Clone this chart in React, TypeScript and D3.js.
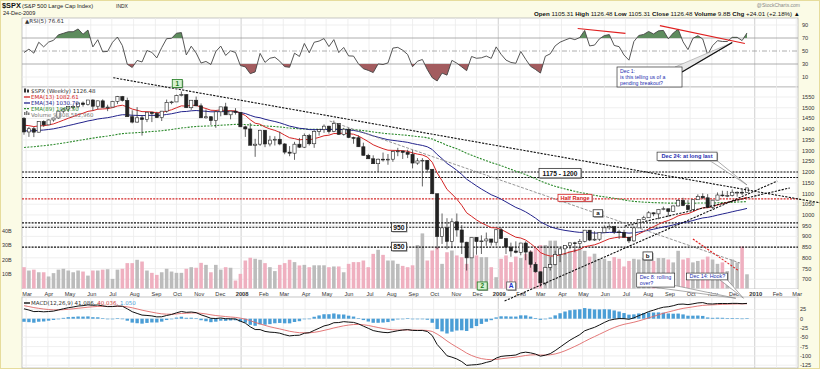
import React from 'react';
import * as d3 from 'd3';

// first weekly bar
const firstWeek = '2007-02-26';

// weekly [open, high, low, close]
const bars2007: number[][] = [
  [1451, 1456, 1374, 1387], [1387, 1410, 1364, 1402], [1402, 1410, 1363, 1386], [1386, 1438, 1385, 1436],
  [1436, 1441, 1411, 1420], [1420, 1445, 1419, 1443], [1443, 1453, 1435, 1452], [1452, 1484, 1449, 1484],
  [1484, 1498, 1475, 1494], [1494, 1505, 1480, 1505], [1505, 1513, 1490, 1505], [1505, 1522, 1498, 1522],
  [1522, 1529, 1505, 1515], [1515, 1536, 1510, 1536], [1536, 1540, 1487, 1507], [1507, 1533, 1492, 1532],
  [1532, 1539, 1500, 1502], [1502, 1514, 1484, 1503], [1503, 1532, 1503, 1530], [1530, 1555, 1517, 1552],
  [1552, 1555, 1529, 1534], [1534, 1547, 1458, 1458], [1458, 1488, 1427, 1433], [1433, 1503, 1430, 1453],
  [1453, 1466, 1370, 1445], [1445, 1479, 1433, 1479], [1479, 1481, 1433, 1473], [1473, 1481, 1453, 1454],
  [1454, 1485, 1438, 1484], [1484, 1538, 1477, 1525], [1525, 1532, 1516, 1527], [1527, 1561, 1527, 1557],
  [1557, 1576, 1553, 1561], [1561, 1564, 1500, 1500], [1500, 1536, 1490, 1535], [1535, 1552, 1506, 1509],
  [1509, 1520, 1453, 1453], [1453, 1492, 1449, 1458], [1458, 1461, 1419, 1440], [1440, 1488, 1406, 1481],
  [1481, 1504, 1460, 1504], [1504, 1523, 1467, 1467], [1467, 1486, 1446, 1484], [1484, 1498, 1468, 1478],
  [1478, 1479, 1411, 1411],
];
const bars2008: number[][] = [
  [1411, 1417, 1364, 1401], [1401, 1429, 1325, 1325], [1325, 1355, 1271, 1330], [1330, 1397, 1322, 1395],
  [1395, 1396, 1316, 1331], [1331, 1369, 1320, 1349], [1349, 1367, 1324, 1353], [1353, 1388, 1325, 1331],
  [1331, 1335, 1283, 1293], [1293, 1321, 1274, 1288], [1288, 1341, 1257, 1330], [1330, 1359, 1312, 1316],
  [1316, 1380, 1312, 1370], [1370, 1378, 1324, 1332], [1332, 1395, 1313, 1390], [1390, 1399, 1370, 1398],
  [1398, 1422, 1383, 1414], [1414, 1416, 1379, 1389], [1389, 1440, 1386, 1426], [1426, 1427, 1373, 1376],
  [1376, 1406, 1370, 1400], [1400, 1405, 1358, 1361], [1361, 1365, 1332, 1360], [1360, 1371, 1317, 1318],
  [1318, 1337, 1277, 1278], [1278, 1285, 1262, 1262], [1262, 1278, 1238, 1239], [1239, 1263, 1200, 1260],
  [1260, 1291, 1249, 1257], [1257, 1284, 1234, 1260], [1260, 1300, 1248, 1296], [1296, 1313, 1274, 1298],
  [1298, 1300, 1261, 1292], [1292, 1304, 1265, 1283], [1283, 1304, 1217, 1242], [1242, 1265, 1234, 1252],
  [1252, 1265, 1133, 1255], [1255, 1255, 1197, 1213], [1213, 1214, 1097, 1099], [1099, 1099, 840, 899],
  [899, 1007, 865, 940], [940, 985, 840, 877], [877, 984, 845, 968], [968, 1007, 899, 930],
  [930, 953, 818, 873], [873, 875, 741, 800], [800, 897, 800, 896], [896, 897, 815, 876],
  [876, 905, 818, 879], [879, 918, 856, 888], [888, 888, 857, 873], [873, 934, 857, 931],
];
const bars2009: number[][] = [
  [931, 943, 889, 890], [890, 893, 818, 850], [850, 871, 805, 832], [832, 877, 821, 826],
  [826, 870, 812, 869], [869, 877, 789, 827], [827, 835, 754, 770], [770, 780, 731, 735],
  [735, 736, 666, 683], [683, 758, 672, 756], [756, 804, 741, 769], [769, 833, 765, 816],
  [816, 845, 780, 842], [842, 858, 814, 857], [857, 870, 840, 870], [870, 875, 826, 866],
  [866, 888, 846, 877], [877, 930, 872, 929], [929, 930, 878, 883], [883, 924, 879, 887],
  [887, 920, 879, 919], [919, 951, 919, 940], [940, 956, 931, 946], [946, 947, 911, 921],
  [921, 931, 888, 918], [918, 931, 896, 896], [896, 898, 869, 879], [879, 943, 875, 940],
  [940, 979, 940, 979], [979, 996, 978, 987], [987, 1018, 987, 1010], [1010, 1012, 994, 1005],
  [1005, 1028, 980, 1026], [1026, 1039, 1022, 1029], [1029, 1029, 992, 1016], [1016, 1044, 1016, 1042],
  [1042, 1074, 1040, 1068], [1068, 1080, 1041, 1044], [1044, 1069, 1020, 1025], [1025, 1071, 1025, 1071],
  [1071, 1096, 1070, 1087], [1087, 1101, 1074, 1080], [1080, 1097, 1033, 1036], [1036, 1071, 1029, 1069],
  [1069, 1105, 1069, 1093], [1093, 1113, 1085, 1091], [1091, 1112, 1083, 1091], [1091, 1119, 1086, 1106],
  [1106, 1110, 1085, 1106], [1106, 1118, 1093, 1102], [1105, 1126, 1105, 1126],
];

// weekly volume, billions of shares
const volume2007 = [
  14.7, 12.4, 13, 11.2, 11.2, 8.3, 10.6, 13, 13.6, 12.4, 11.2, 12.4, 11.7, 8.9, 12.4, 12.4, 13, 13.3, 6.6, 13,
  13.6, 17.5, 17.5, 19.8, 18.6, 12.4, 10.8, 9.4, 11.2, 13.6, 11.7, 10.8, 10.8, 13.6, 14.7, 14.3, 17.7, 16.3, 11.2,
  16.3, 13, 14.7, 14.3, 5.5, 10.1,
];
const volume2008 = [
  19.3, 21.2, 20.5, 19.8, 17.5, 14.7, 12, 16.3, 17.5, 19.8, 18.2, 15.9, 16.3, 14.7, 16, 16, 16, 14.7, 15.2, 15.2,
  11.2, 17, 18.2, 18.2, 19.3, 14.7, 23.9, 26.7, 23.2, 19.3, 19.3, 17, 15.6, 14.7, 16, 30, 38, 19.3, 26.2, 28.5,
  17, 25, 26.2, 22.8, 21.6, 17, 25, 22.8, 21.6, 21.6, 14.7, 7.8,
];
const volume2009 = [
  20.5, 22.8, 18.2, 22, 21, 24, 26, 28, 30, 30, 33, 33, 27, 24, 26, 27, 28.5, 26, 22, 24,
  20.5, 20.5, 19, 21.6, 20.5, 15.2, 19, 20.5, 20, 21, 21, 19, 21, 21, 20, 18, 26, 20, 21, 18,
  19, 20, 22, 20, 17, 18, 12, 20, 18, 29, 9.8,
];

// indicator values in force the week before the first bar
const emaStart = { e13: 1424, e34: 1392, e89: 1313 };
const macdStart = { fast: 1425, slow: 1393, signal: 37 };
const rsiStart = { prevClose: 1451, gain: 20, loss: 6 };

// axis ticks
const priceTicks = [700, 750, 800, 850, 900, 950, 1000, 1050, 1100, 1150, 1200, 1250, 1300, 1350, 1400, 1450, 1500, 1550];
const rsiTicks = [90, 70, 50, 30, 10];
const macdTicks = [25, 0, -25, -50, -75, -100, -125];
const volumeTicks = [10, 20, 30, 40];

// analyst's levels and trend lines
const blackLevels = [1200, 1175, 963, 943, 850];
const halfRange = 1075;
const trendLines: [string, number, string, number][] = [
  ['2007-07-03', 1640, '2010-04-05', 1056],
  ['2009-01-10', 599, '2010-02-02', 1158],
  ['2009-06-30', 948, '2010-02-20', 1126],
];
const grayLine: [string, number, string, number] = ['2008-05-06', 1438, '2009-12-11', 776];
const redLine: [string, number, string, number] = ['2009-10-05', 888, '2009-12-08', 743];
const rsiRedLines: [string, number, string, number][] = [
  ['2009-04-24', 84.6, '2009-07-01', 77],
  ['2009-08-19', 89, '2009-12-18', 61.5],
];

function emaSeries(values: number[], n: number, seed: number) {
  const k = 2 / (n + 1);
  let prev = seed;
  return values.map((v) => (prev = prev + k * (v - prev)));
}

function rsiSeries(values: number[], n: number) {
  let p = rsiStart.prevClose, ag = rsiStart.gain, al = rsiStart.loss;
  return values.map((v) => {
    const ch = v - p;
    p = v;
    ag = (ag * (n - 1) + Math.max(ch, 0)) / n;
    al = (al * (n - 1) + Math.max(-ch, 0)) / n;
    return 100 - 100 / (1 + ag / al);
  });
}

const FONT = 'Liberation Sans, Arial, sans-serif';
const MONO = 'DejaVu Sans, sans-serif';

export default function App() {
  const W = 820, H = 369;
  const L = 22, R = 798;
  const rsiTop = 18, rsiBot = 87, priceTop = 87, priceBot = 289, macdTop = 297, macdBot = 368;

  const parse = d3.timeParse('%Y-%m-%d');
  const start = parse(firstWeek) as Date;
  const bars = [...bars2007, ...bars2008, ...bars2009];
  const volume = [...volume2007, ...volume2008, ...volume2009];
  const dates = bars.map((_, i) => d3.timeDay.offset(start, 7 * i));
  const closes = bars.map((b) => b[3]);

  const x = d3.scaleTime().domain([start, dates[dates.length - 1]]).range([24, 747]);
  const y = d3.scaleLinear().domain([700, 1550]).range([279.3, 97]);
  const yVol = d3.scaleLinear().domain([0, 40]).range([288.5, 230.5]);
  const yRsi = d3.scaleLinear().domain([10, 90]).range([77, 25]);
  const yMacd = d3.scaleLinear().domain([0, -125]).range([318.7, 365.2]);
  const px = (s: string) => x(parse(s) as Date);

  const e13 = emaSeries(closes, 13, emaStart.e13);
  const e34 = emaSeries(closes, 34, emaStart.e34);
  const e89 = emaSeries(closes, 89, emaStart.e89);
  const fast = emaSeries(closes, 12, macdStart.fast);
  const slow = emaSeries(closes, 26, macdStart.slow);
  const macd = fast.map((f, i) => f - slow[i]);
  const signal = emaSeries(macd, 9, macdStart.signal);
  const hist = macd.map((m, i) => m - signal[i]);
  const rsi = rsiSeries(closes, 5);

  const line = (vals: number[], sy: (v: number) => number) =>
    d3.line<number>().x((_, i) => x(dates[i])).y((v) => sy(v))(vals) || '';

  const rsiArea = (base: number) =>
    d3.area<number>().x((_, i) => x(dates[i])).y0(yRsi(base)).y1((v) => yRsi(v))(rsi) || '';

  const months = d3.timeMonth.range(new Date(2007, 2, 1), new Date(2010, 2, 2));

  const seg = (t: [string, number, string, number], sy: (v: number) => number) => ({
    x1: px(t[0]), y1: sy(t[1]), x2: px(t[2]), y2: sy(t[3]),
  });

  const boxLabel = (key: string, bx: number, cy: number, w: number, h: number, text: string,
    color: string, fill: string, stroke: string, size: number) => (
    <g key={key}>
      <rect x={bx + 1} y={cy - h / 2 + 1} width={w} height={h} fill="#999" />
      <rect x={bx} y={cy - h / 2} width={w} height={h} fill={fill} stroke={stroke} strokeWidth={0.8} />
      <text x={bx + w / 2} y={cy + size * 0.36} textAnchor="middle" fontSize={size} fontWeight="bold"
        fill={color} fontFamily={FONT}>{text}</text>
    </g>
  );

  return (
    <svg width={W} height={H} style={{ position: 'absolute', left: 0, top: 0, display: 'block' }} fontFamily={FONT}>
      <defs>
        <clipPath id="rsiTopClip"><rect x={L} y={rsiTop} width={R - L} height={yRsi(70) - rsiTop} /></clipPath>
        <clipPath id="rsiBotClip"><rect x={L} y={yRsi(30)} width={R - L} height={rsiBot - yRsi(30)} /></clipPath>
      </defs>
      <rect width={W} height={H} fill="#fbfbe6" />
      <rect x={0.5} y={0.5} width={W - 1} height={H - 1} fill="none" stroke="#e6dc9c" />

      {/* header */}
      <text x={2} y={8} fontSize={7.4} fontWeight="bold" fill="#111">$SPX</text>
      <text x={22} y={8} fontSize={5.8} fill="#222">(S&amp;P 500 Large Cap Index)</text>
      <text x={116} y={8} fontSize={5} fill="#222">INDX</text>
      <text x={3} y={15} fontSize={5.6} fill="#222">24-Dec-2009</text>
      <text x={800} y={6.5} fontSize={5} fill="#888" textAnchor="end">@StockCharts.com</text>
      <text x={800} y={16} fontSize={6.2} fill="#111" textAnchor="end">
        <tspan fontWeight="bold">Open</tspan><tspan> 1105.31 </tspan>
        <tspan fontWeight="bold">High</tspan><tspan> 1126.48 </tspan>
        <tspan fontWeight="bold">Low</tspan><tspan> 1105.31 </tspan>
        <tspan fontWeight="bold">Close</tspan><tspan> 1126.48 </tspan>
        <tspan fontWeight="bold">Volume</tspan><tspan> 9.8B </tspan>
        <tspan fontWeight="bold">Chg</tspan><tspan> +24.01 (+2.18%) ▲</tspan>
      </text>

      {/* panels */}
      <rect x={L} y={rsiTop} width={R - L} height={rsiBot - rsiTop} fill="#fff" stroke="#b8b8b8" strokeWidth={0.8} />
      <rect x={L} y={priceTop} width={R - L} height={priceBot - priceTop} fill="#fff" stroke="#b8b8b8" strokeWidth={0.8} />
      <rect x={L} y={priceBot} width={R - L} height={macdTop - priceBot} fill="#fff" />
      <rect x={L} y={macdTop} width={R - L} height={macdBot - macdTop} fill="#fff" stroke="#b8b8b8" strokeWidth={0.8} />

      {/* vertical grid */}
      {months.map((m) => {
        const mx = x(m);
        const yr = m.getMonth() === 0;
        const c = yr ? '#c4c4c4' : '#ebebeb';
        return (
          <g key={'g' + m.getTime()}>
            <line x1={mx} x2={mx} y1={rsiTop} y2={rsiBot} stroke={c} strokeWidth={0.8} />
            <line x1={mx} x2={mx} y1={priceTop} y2={priceBot} stroke={c} strokeWidth={0.8} />
            <line x1={mx} x2={mx} y1={macdTop} y2={macdBot} stroke={c} strokeWidth={0.8} />
            <text x={mx + 1} y={296} textAnchor="middle" fontSize={yr ? 5.8 : 5.6}
              fontWeight={yr ? 'bold' : 'normal'} fill="#333">
              {yr ? d3.timeFormat('%Y')(m) : d3.timeFormat('%b')(m)}
            </text>
          </g>
        );
      })}

      {/* RSI panel */}
      {rsiTicks.map((t) => (
        <g key={'r' + t}>
          <line x1={L} x2={R} y1={yRsi(t)} y2={yRsi(t)}
            stroke={t === 70 || t === 30 || t === 50 ? '#999' : '#ebebeb'}
            strokeDasharray={t === 50 ? '5 2 1 2' : undefined} strokeWidth={0.8} />
          <text x={802} y={yRsi(t) + 2} fontSize={5.6} fill="#333">{t}</text>
        </g>
      ))}
      <path d={rsiArea(70)} clipPath="url(#rsiTopClip)" fill="#5e8c5e" />
      <path d={rsiArea(30)} clipPath="url(#rsiBotClip)" fill="#a35c5f" />
      <path d={line(rsi, yRsi)} fill="none" stroke="#444" strokeWidth={0.9} />
      <text x={25} y={23} fontSize={5.6} fill="#333" fontFamily={MONO}>▲RSI(5) 76.61</text>
      {rsiRedLines.map((t, i) => {
        const s = seg(t, yRsi);
        return <line key={'rl' + i} {...s} stroke="#e02020" strokeWidth={1.2} />;
      })}

      {/* price panel grid and labels */}
      {priceTicks.map((t) => (
        <g key={'p' + t}>
          <line x1={L} x2={R} y1={y(t)} y2={y(t)} stroke="#ebebeb" strokeWidth={0.8} />
          <text x={802} y={y(t) + 2} fontSize={5.6} fill="#333">{t}</text>
        </g>
      ))}
      {volumeTicks.map((t) => (
        <text key={'v' + t} x={2} y={yVol(t) + 2} fontSize={5.4} fill="#333">{t}B</text>
      ))}

      {/* volume */}
      {volume.map((v, i) => {
        const prev = i === 0 ? bars[0][0] : closes[i - 1];
        const down = closes[i] < prev;
        return (
          <rect key={'vol' + i} x={x(dates[i]) - 1.8} width={3.6} y={yVol(v)} height={yVol(0) - yVol(v)}
            fill={down ? '#efb0c0' : '#bcbcbc'} />
        );
      })}

      {/* levels */}
      {blackLevels.map((lv) => (
        <line key={'lv' + lv} x1={L} x2={R} y1={y(lv)} y2={y(lv)} stroke="#111" strokeWidth={1.1} strokeDasharray="2 1.2" />
      ))}
      <line x1={L} x2={R} y1={y(halfRange)} y2={y(halfRange)} stroke="#d42a2a" strokeWidth={1.1} strokeDasharray="2 1.2" />

      {/* moving averages */}
      <path d={line(e89, y)} fill="none" stroke="#2c8a2c" strokeWidth={1.1} strokeDasharray="2 1.3" />
      <path d={line(e34, y)} fill="none" stroke="#23238c" strokeWidth={1} />
      <path d={line(e13, y)} fill="none" stroke="#d42424" strokeWidth={1} />

      {/* candles */}
      {bars.map((b, i) => {
        const [o, h, l, c] = b;
        const cx = x(dates[i]);
        const top = y(Math.max(o, c));
        const hgt = Math.max(0.8, y(Math.min(o, c)) - top);
        return (
          <g key={'c' + i}>
            <line x1={cx} x2={cx} y1={y(h)} y2={y(l)} stroke="#222" strokeWidth={0.7} />
            <rect x={cx - 1.6} width={3.2} y={top} height={hgt} fill={c >= o ? '#fff' : '#222'} stroke="#222" strokeWidth={0.6} />
          </g>
        );
      })}

      {/* trend lines */}
      <line {...seg(grayLine, y)} stroke="#8a8a8a" strokeWidth={0.9} strokeDasharray="3 1.5" />
      {trendLines.map((t, i) => (
        <line key={'t' + i} {...seg(t, y)} stroke="#111" strokeWidth={1.1} strokeDasharray="2.2 1.3" />
      ))}
      <line {...seg(redLine, y)} stroke="#e02020" strokeWidth={1.1} strokeDasharray="2.2 1.3" />

      {/* price legend */}
      <g fontFamily={MONO} fontSize={5.5}>
        <rect x={24} y={88.5} width={2} height={4} fill="#333" />
        <rect x={27} y={89.5} width={2} height={3} fill="#333" />
        <text x={31} y={93} fill="#333">$SPX (Weekly) 1126.48</text>
        <line x1={24} x2={30} y1={97} y2={97} stroke="#d42424" strokeWidth={1.3} />
        <text x={31} y={99} fill="#d42424">EMA(13) 1082.61</text>
        <line x1={24} x2={30} y1={103} y2={103} stroke="#23238c" strokeWidth={1.3} />
        <text x={31} y={105} fill="#23238c">EMA(34) 1030.70</text>
        <line x1={24} x2={30} y1={108.7} y2={108.7} stroke="#2c8a2c" strokeWidth={1.3} strokeDasharray="2 1" />
        <text x={31} y={110.7} fill="#2c8a2c">EMA(89) 1062.50</text>
        <rect x={24} y={112} width={1.5} height={3} fill="#777" />
        <rect x={26} y={111} width={1.5} height={4} fill="#777" />
        <rect x={28} y={112.5} width={1.5} height={2.5} fill="#777" />
        <text x={31} y={116.6} fill="#777">Volume 9,808,552,960</text>
      </g>

      {/* text annotations */}
      {boxLabel('l1175', px('2009-02-28'), y(1195), 42, 9.5, '1175 - 1200', '#111', '#fff', '#333', 6.6)}
      {boxLabel('lhalf', px('2009-03-27'), y(1080), 34, 7, 'Half Range', '#d42020', '#fff', '#d42020', 5.6)}
      {boxLabel('l950', px('2008-08-02'), y(943), 15, 8.5, '950', '#111', '#fff', '#333', 6.8)}
      {boxLabel('l850', px('2008-08-02'), y(853), 15, 8.5, '850', '#111', '#fff', '#333', 6.8)}
      {boxLabel('la', px('2009-05-16'), y(1008), 9.5, 7, 'a', '#111', '#fff', '#333', 6.2)}
      {boxLabel('lb', px('2009-07-26'), y(809), 9.5, 8, 'b', '#111', '#fff', '#333', 6.2)}
      {boxLabel('l1', px('2007-09-25'), y(1613), 10, 8, '1', '#1d7a1d', '#d6f0d0', '#1d7a1d', 6.4)}
      {boxLabel('l2', px('2008-12-02'), y(669), 10, 8, '2', '#1d7a1d', '#d6f0d0', '#1d7a1d', 6.4)}
      {boxLabel('lA', px('2009-01-13'), y(669), 9, 8, 'A', '#2233cc', '#fff', '#555', 6.6)}

      {/* Dec 24 callout */}
      {(() => {
        const bx = px('2009-08-15'), by = y(1293);
        const tx = x(dates[dates.length - 1]), ty = y(1140);
        return (
          <g>
            <polygon points={`${bx + 52},${by + 8} ${bx + 58},${by + 7} ${tx},${ty}`} fill="#fff" stroke="#888" strokeWidth={0.7} />
            <rect x={bx + 1} y={by + 1} width={60} height={8.5} fill="#999" />
            <rect x={bx} y={by} width={60} height={8.5} fill="#fff" stroke="#333" strokeWidth={0.7} />
            <text x={bx + 30} y={by + 6.3} textAnchor="middle" fontSize={5.6} fontWeight="bold" fill="#1f2fb0">Dec 24: at long last</text>
          </g>
        );
      })()}

      {/* Dec 8 and Dec 14 callouts */}
      {(() => {
        const bx = px('2009-07-17'), by = y(729);
        const tx = px('2009-12-05'), ty = yMacd(55);
        const hx = px('2009-09-26');
        const t2x = px('2009-12-16');
        return (
          <g>
            <polygon points={`${bx + 16},${by + 14} ${bx + 36},${by + 12} ${tx},${ty}`} fill="#fff" stroke="#888" strokeWidth={0.7} />
            <rect x={bx} y={by} width={38} height={14} fill="#fff" stroke="#333" strokeWidth={0.7} />
            <text x={bx + 3} y={by + 6} fontSize={5.4} fill="#1f2fb0">Dec 8: rolling</text>
            <text x={bx + 3} y={by + 12} fontSize={5.4} fill="#1f2fb0">over?</text>
            <polygon points={`${hx + 33},${by + 6.5} ${hx + 40},${by + 6} ${t2x},${ty}`} fill="#fff" stroke="#888" strokeWidth={0.7} />
            <rect x={hx} y={by} width={41} height={6.8} fill="#fff" stroke="#333" strokeWidth={0.7} />
            <text x={hx + 3} y={by + 5.4} fontSize={5.4} fill="#1f2fb0">Dec 14: Hook?</text>
          </g>
        );
      })()}

      {/* Dec 1 callout in RSI */}
      {(() => {
        const bx = px('2009-06-19'), by = yRsi(25.4);
        const tx = px('2009-11-30'), ty = yRsi(63);
        return (
          <g>
            <polygon points={`${bx + 58},${by} ${bx + 65},${by + 5} ${tx},${ty}`} fill="#e8e8e8" stroke="#999" strokeWidth={0.6} />
            <line x1={bx + 65} y1={by + 5} x2={tx} y2={ty} stroke="#111" strokeWidth={1.3} />
            <rect x={bx} y={by} width={65} height={20} fill="#fff" stroke="#333" strokeWidth={0.7} />
            <text x={bx + 3} y={by + 5.8} fontSize={5.2} fill="#1f2fb0">Dec 1:</text>
            <text x={bx + 3} y={by + 12} fontSize={5.2} fill="#1f2fb0">is this telling us of a</text>
            <text x={bx + 3} y={by + 18.2} fontSize={5.2} fill="#1f2fb0">pending breakout?</text>
          </g>
        );
      })()}

      {/* MACD panel */}
      {macdTicks.map((t) => (
        <g key={'m' + t}>
          <line x1={L} x2={R} y1={yMacd(t)} y2={yMacd(t)} stroke="#ebebeb" strokeWidth={0.8} />
          <text x={800} y={yMacd(t) + 2} fontSize={5.6} fill="#333">{t}</text>
        </g>
      ))}
      {hist.map((h, i) => (
        <rect key={'h' + i} x={x(dates[i]) - 1.7} width={3.4}
          y={Math.min(yMacd(h), yMacd(0))} height={Math.max(0.6, Math.abs(yMacd(h) - yMacd(0)))} fill="#4b9ed6" />
      ))}
      <path d={line(signal, yMacd)} fill="none" stroke="#e06a6a" strokeWidth={0.9} />
      <path d={line(macd, yMacd)} fill="none" stroke="#111" strokeWidth={1} />
      <g fontFamily={MONO} fontSize={5.5}>
        <line x1={24} x2={30} y1={303} y2={303} stroke="#111" strokeWidth={1.4} />
        <text x={31} y={305} fill="#333">MACD(12,26,9) 41.086, <tspan fill="#cc3a3a">40.036,</tspan> <tspan fill="#4aa0d8">1.050</tspan></text>
      </g>
    </svg>
  );
}
